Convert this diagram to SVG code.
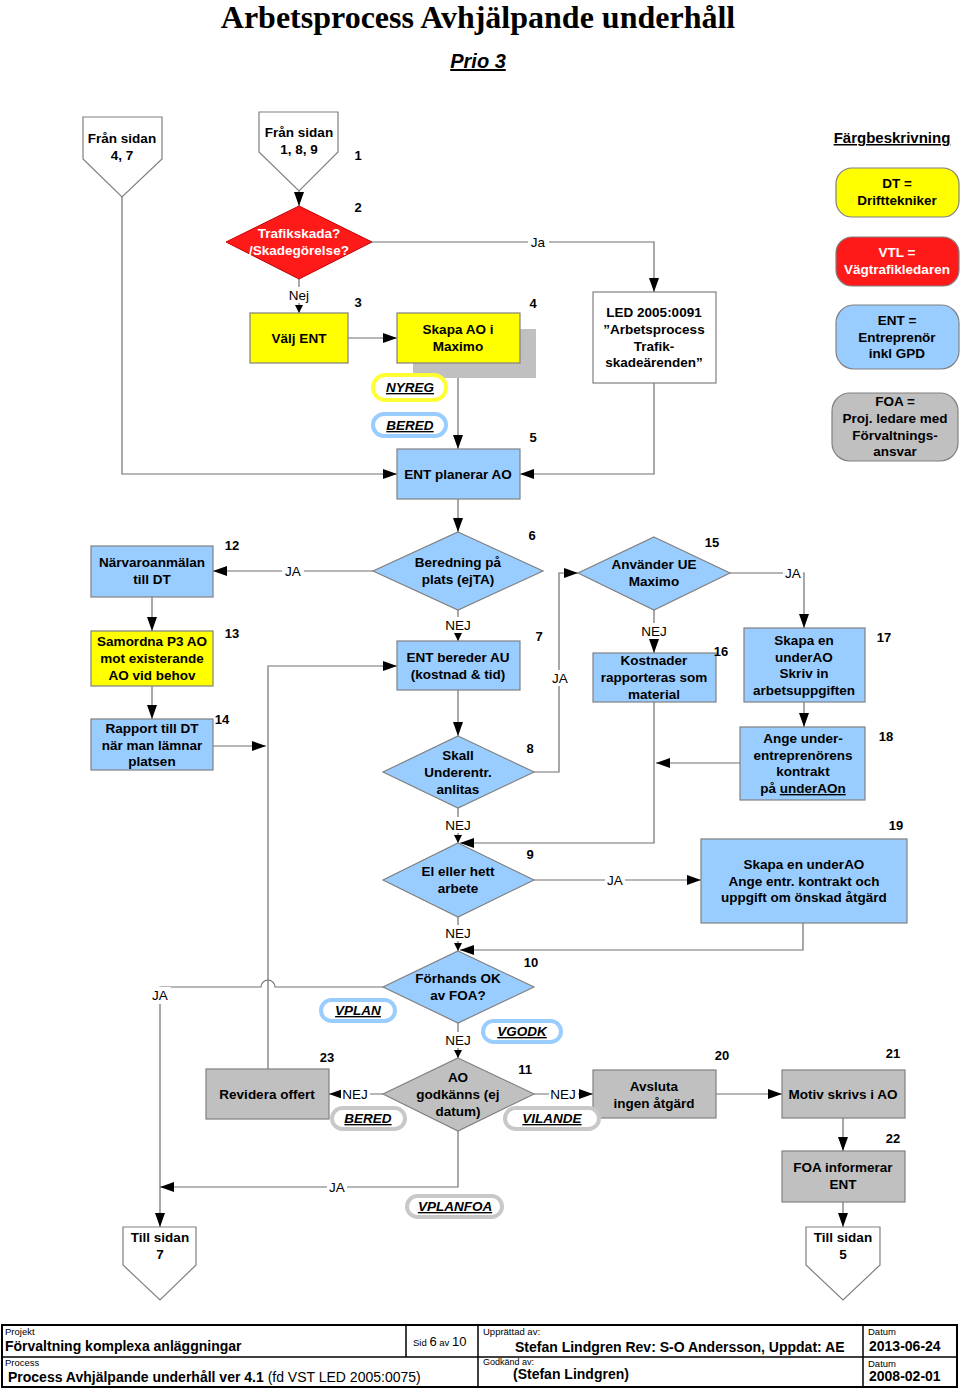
<svg xmlns="http://www.w3.org/2000/svg" width="960" height="1388" viewBox="0 0 960 1388">
<defs>
<style>
text{font-family:"Liberation Sans",Arial,sans-serif;}
.t{font-size:13.5px;font-weight:bold;text-anchor:middle;fill:#000;}
.tw{font-size:13.5px;font-weight:bold;text-anchor:middle;fill:#fff;}
.num{font-size:13px;font-weight:bold;text-anchor:middle;fill:#000;}
.lbl{font-size:13.5px;text-anchor:middle;fill:#000;}
.pt{font-size:13.5px;font-weight:bold;font-style:italic;text-decoration:underline;text-anchor:middle;fill:#000;}
.box{stroke:#808080;stroke-width:1.2;}
.yel{fill:#FFFF00;}
.red{fill:#FF1A1A;}
.blu{fill:#99CCFF;}
.gry{fill:#C0C0C0;}
.wht{fill:#FFFFFF;}
.conn path,.conn line{stroke:#707070;stroke-width:1.2;fill:none;}
.bg{fill:#fff;}
.pillY{fill:#fff;stroke:#FFFF33;stroke-width:4;}
.pillB{fill:#fff;stroke:#99CCFF;stroke-width:4;}
.pillG{fill:#fff;stroke:#C8C8C8;stroke-width:4;}
.sm{font-size:9.5px;fill:#000;}
.ft{font-size:14px;font-weight:bold;fill:#000;}
</style>
<marker id="ar" markerUnits="userSpaceOnUse" markerWidth="14" markerHeight="10" refX="14" refY="5" orient="auto">
<path d="M0,0 L14,5 L0,10 Z" fill="#000"/>
</marker>
<marker id="as" markerUnits="userSpaceOnUse" markerWidth="8" markerHeight="8" refX="8" refY="4" orient="auto">
<path d="M0,0 L8,4 L0,8 Z" fill="#000"/>
</marker>
</defs>
<rect width="960" height="1388" fill="#fff"/>

<text x="478" y="28" style="font-family:'Liberation Serif','Times New Roman',serif;font-size:32px;font-weight:bold;text-anchor:middle;">Arbetsprocess Avhjälpande underhåll</text>
<text x="478" y="68" style="font-size:20px;font-weight:bold;font-style:italic;text-decoration:underline;text-anchor:middle;">Prio 3</text>

<!-- connectors -->
<g class="conn" id="connectors">
<path d="M299,191 V206" marker-end="url(#ar)"/>
<path d="M372,242 H654 V292" marker-end="url(#ar)"/>
<path d="M299,279 V313" marker-end="url(#as)"/>
<path d="M348,338 H397" marker-end="url(#ar)"/>
<path d="M458,363 V449" marker-end="url(#ar)"/>
<path d="M122,197 V474 H397" marker-end="url(#ar)"/>
<path d="M654,383 V474 H520" marker-end="url(#ar)"/>
<path d="M458,499 V532" marker-end="url(#ar)"/>
<path d="M373,571 H213" marker-end="url(#ar)"/>
<path d="M152,597 V631" marker-end="url(#ar)"/>
<path d="M152,686 V719" marker-end="url(#ar)"/>
<path d="M213,746 H266" marker-end="url(#ar)"/>
<path d="M268,1069 V666 H397" marker-end="url(#ar)"/>
<path d="M458,610 V641" marker-end="url(#as)"/>
<path d="M458,690 V736" marker-end="url(#ar)"/>
<path d="M534,772 H559 V573 H578" marker-end="url(#ar)"/>
<path d="M730,573 H804 V628" marker-end="url(#ar)"/>
<path d="M654,610 V653" marker-end="url(#ar)"/>
<path d="M804,702 V727" marker-end="url(#ar)"/>
<path d="M740,763 H656" marker-end="url(#ar)"/>
<path d="M654,702 V843 H460" marker-end="url(#ar)"/>
<path d="M458,808 V843" marker-end="url(#as)"/>
<path d="M534,880 H701" marker-end="url(#ar)"/>
<path d="M803,923 V950 H460" marker-end="url(#ar)"/>
<path d="M458,917 V951" marker-end="url(#as)"/>
<path d="M383,987 H275 A7,7 0 0 0 261,987 H160 V1227" marker-end="url(#ar)"/>
<path d="M458,1023 V1058" marker-end="url(#as)"/>
<path d="M383,1094 H329" marker-end="url(#ar)"/>
<path d="M534,1094 H593" marker-end="url(#ar)"/>
<path d="M716,1094 H782" marker-end="url(#ar)"/>
<path d="M843,1118 V1151" marker-end="url(#ar)"/>
<path d="M843,1202 V1227" marker-end="url(#ar)"/>
<path d="M458,1131 V1187 H160" marker-end="url(#ar)"/>
</g>

<!-- connector labels -->
<g id="connector-labels">
<rect class="bg" x="528" y="234" width="21" height="16"/><text class="lbl" x="538" y="247">Ja</text>
<rect class="bg" x="286" y="287" width="26" height="16"/><text class="lbl" x="299" y="300">Nej</text>
<rect class="bg" x="282" y="563" width="22" height="16"/><text class="lbl" x="293" y="576">JA</text>
<rect class="bg" x="442" y="617" width="32" height="16"/><text class="lbl" x="458" y="630">NEJ</text>
<rect class="bg" x="550" y="670" width="20" height="16"/><text class="lbl" x="560" y="683">JA</text>
<rect class="bg" x="783" y="565" width="20" height="16"/><text class="lbl" x="793" y="578">JA</text>
<rect class="bg" x="638" y="623" width="32" height="16"/><text class="lbl" x="654" y="636">NEJ</text>
<rect class="bg" x="442" y="817" width="32" height="16"/><text class="lbl" x="458" y="830">NEJ</text>
<rect class="bg" x="605" y="872" width="20" height="16"/><text class="lbl" x="615" y="885">JA</text>
<rect class="bg" x="442" y="925" width="32" height="16"/><text class="lbl" x="458" y="938">NEJ</text>
<rect class="bg" x="149" y="987" width="22" height="17"/><text class="lbl" x="160" y="1000">JA</text>
<rect class="bg" x="442" y="1032" width="32" height="16"/><text class="lbl" x="458" y="1045">NEJ</text>
<rect class="bg" x="341" y="1086" width="29" height="16"/><text class="lbl" x="355" y="1099">NEJ</text>
<rect class="bg" x="549" y="1086" width="29" height="16"/><text class="lbl" x="563" y="1099">NEJ</text>
<rect class="bg" x="327" y="1179" width="20" height="16"/><text class="lbl" x="337" y="1192">JA</text>
</g>

<!-- off-page connectors -->
<g id="fran-4-7">
<path class="box wht" d="M83,117 H162 V159 L122,197 L83,159 Z"/>
<text class="t" x="122" y="143">Från sidan</text>
<text class="t" x="122" y="160">4, 7</text>
</g>
<g id="fran-1-8-9">
<path class="box wht" d="M259,112 H338 V152 L299,191 L259,152 Z"/>
<text class="t" x="299" y="137">Från sidan</text>
<text class="t" x="299" y="154">1, 8,  9</text>
</g>

<g id="n2">
<path class="red" d="M299,206 L372,242 L299,279 L226,242 Z" stroke="#C00000" stroke-width="1"/>
<text class="tw" x="299" y="238">Trafikskada?</text>
<text class="tw" x="299" y="255">/Skadegörelse?</text>
</g>
<g id="n3">
<rect class="box yel" x="250" y="313" width="98" height="50"/>
<text class="t" x="299" y="343">Välj ENT</text>
</g>
<g id="n4">
<rect x="413" y="329" width="123" height="49" fill="#C0C0C0"/>
<rect class="box yel" x="397" y="313" width="123" height="50"/>
<text class="t" x="458" y="334">Skapa AO i</text>
<text class="t" x="458" y="351">Maximo</text>
</g>
<g id="led">
<rect class="box wht" x="593" y="292" width="123" height="91"/>
<text class="t" x="654" y="317">LED 2005:0091</text>
<text class="t" x="654" y="334">”Arbetsprocess</text>
<text class="t" x="654" y="351">Trafik-</text>
<text class="t" x="654" y="367">skadeärenden”</text>
</g>
<g id="pill-nyreg">
<rect class="pillY" x="373" y="375" width="73" height="25" rx="12.5"/>
<text class="pt" x="410" y="392">NYREG</text>
</g>
<g id="pill-bered1">
<rect class="pillB" x="373" y="414" width="73" height="22" rx="11"/>
<text class="pt" x="410" y="430">BERED</text>
</g>
<g id="n5">
<rect class="box blu" x="397" y="449" width="123" height="50"/>
<text class="t" x="458" y="479">ENT planerar AO</text>
</g>

<!-- legend -->
<g id="legend">
<text x="892" y="143" style="font-size:15px;font-weight:bold;text-decoration:underline;text-anchor:middle;">Färgbeskrivning</text>
<rect class="box yel" x="836" y="168" width="123" height="49" rx="16"/>
<text class="t" x="897" y="188">DT =</text>
<text class="t" x="897" y="205">Drifttekniker</text>
<rect class="box red" x="836" y="237" width="123" height="49" rx="16"/>
<text class="tw" x="897" y="257">VTL =</text>
<text class="tw" x="897" y="274">Vägtrafikledaren</text>
<rect class="box blu" x="836" y="305" width="123" height="64" rx="18"/>
<text class="t" x="897" y="325">ENT =</text>
<text class="t" x="897" y="342">Entreprenör</text>
<text class="t" x="897" y="358">inkl GPD</text>
<rect class="box gry" x="832" y="393" width="126" height="68" rx="18"/>
<text class="t" x="895" y="406">FOA =</text>
<text class="t" x="895" y="423">Proj. ledare med</text>
<text class="t" x="895" y="440">Förvaltnings-</text>
<text class="t" x="895" y="456">ansvar</text>
</g>

<g id="n6">
<path class="box blu" d="M458,532 L543,571 L458,610 L373,571 Z"/>
<text class="t" x="458" y="567">Beredning på</text>
<text class="t" x="458" y="584">plats (ejTA)</text>
</g>
<g id="n12">
<rect class="box blu" x="91" y="546" width="122" height="51"/>
<text class="t" x="152" y="567">Närvaroanmälan</text>
<text class="t" x="152" y="584">till DT</text>
</g>
<g id="n13">
<rect class="box yel" x="91" y="631" width="122" height="55"/>
<text class="t" x="152" y="646">Samordna P3 AO</text>
<text class="t" x="152" y="663">mot existerande</text>
<text class="t" x="152" y="680">AO vid behov</text>
</g>
<g id="n14">
<rect class="box blu" x="91" y="719" width="122" height="51"/>
<text class="t" x="152" y="733">Rapport till DT</text>
<text class="t" x="152" y="750">när man lämnar</text>
<text class="t" x="152" y="766">platsen</text>
</g>
<g id="n7">
<rect class="box blu" x="397" y="641" width="123" height="49"/>
<text class="t" x="458" y="662">ENT bereder AU</text>
<text class="t" x="458" y="679">(kostnad &amp; tid)</text>
</g>
<g id="n8">
<path class="box blu" d="M458,736 L534,772 L458,808 L383,772 Z"/>
<text class="t" x="458" y="760">Skall</text>
<text class="t" x="458" y="777">Underentr.</text>
<text class="t" x="458" y="794">anlitas</text>
</g>
<g id="n15">
<path class="box blu" d="M654,537 L730,573 L654,610 L578,573 Z"/>
<text class="t" x="654" y="569">Använder UE</text>
<text class="t" x="654" y="586">Maximo</text>
</g>
<g id="n16">
<rect class="box blu" x="593" y="653" width="123" height="49"/>
<text class="t" x="654" y="665">Kostnader</text>
<text class="t" x="654" y="682">rapporteras som</text>
<text class="t" x="654" y="699">material</text>
</g>
<g id="n17">
<rect class="box blu" x="744" y="628" width="121" height="74"/>
<text class="t" x="804" y="645">Skapa en</text>
<text class="t" x="804" y="662">underAO</text>
<text class="t" x="804" y="678">Skriv in</text>
<text class="t" x="804" y="695">arbetsuppgiften</text>
</g>
<g id="n18">
<rect class="box blu" x="740" y="727" width="125" height="73"/>
<text class="t" x="803" y="743">Ange under-</text>
<text class="t" x="803" y="760">entreprenörens</text>
<text class="t" x="803" y="776">kontrakt</text>
<text class="t" x="803" y="793">på <tspan style="text-decoration:underline">underAOn</tspan></text>
</g>
<g id="n9">
<path class="box blu" d="M458,843 L534,880 L458,917 L383,880 Z"/>
<text class="t" x="458" y="876">El eller hett</text>
<text class="t" x="458" y="893">arbete</text>
</g>
<g id="n19">
<rect class="box blu" x="701" y="839" width="206" height="84"/>
<text class="t" x="804" y="869">Skapa en underAO</text>
<text class="t" x="804" y="886">Ange entr. kontrakt och</text>
<text class="t" x="804" y="902">uppgift om önskad åtgärd</text>
</g>
<g id="n10">
<path class="box blu" d="M458,951 L534,987 L458,1023 L383,987 Z"/>
<text class="t" x="458" y="983">Förhands OK</text>
<text class="t" x="458" y="1000">av FOA?</text>
</g>
<g id="pill-vplan">
<rect class="pillB" x="321" y="1000" width="74" height="21" rx="10.5"/>
<text class="pt" x="358" y="1015">VPLAN</text>
</g>
<g id="pill-vgodk">
<rect class="pillB" x="483" y="1021" width="78" height="21" rx="10.5"/>
<text class="pt" x="522" y="1036">VGODK</text>
</g>
<g id="n11">
<path class="box gry" d="M458,1058 L534,1094 L458,1131 L383,1094 Z"/>
<text class="t" x="458" y="1082">AO</text>
<text class="t" x="458" y="1099">godkänns (ej</text>
<text class="t" x="458" y="1116">datum)</text>
</g>
<g id="n23">
<rect class="box gry" x="206" y="1069" width="123" height="50"/>
<text class="t" x="267" y="1099">Revidera offert</text>
</g>
<g id="pill-bered2">
<rect class="pillG" x="332" y="1108" width="73" height="21" rx="10.5"/>
<text class="pt" x="368" y="1123">BERED</text>
</g>
<g id="n20">
<rect class="box gry" x="593" y="1070" width="123" height="48"/>
<text class="t" x="654" y="1091">Avsluta</text>
<text class="t" x="654" y="1108">ingen åtgärd</text>
</g>
<g id="pill-vilande">
<rect class="pillG" x="505" y="1108" width="94" height="21" rx="10.5"/>
<text class="pt" x="552" y="1123">VILANDE</text>
</g>
<g id="n21">
<rect class="box gry" x="782" y="1070" width="123" height="48"/>
<text class="t" x="843" y="1099">Motiv skrivs i AO</text>
</g>
<g id="n22">
<rect class="box gry" x="782" y="1151" width="123" height="51"/>
<text class="t" x="843" y="1172">FOA informerar</text>
<text class="t" x="843" y="1189">ENT</text>
</g>
<g id="pill-vplanfoa">
<rect class="pillG" x="407" y="1196" width="95" height="21" rx="10.5"/>
<text class="pt" x="455" y="1211">VPLANFOA</text>
</g>
<g id="till-7">
<path class="box wht" d="M123,1227 H196 V1265 L160,1300 L123,1265 Z"/>
<text class="t" x="160" y="1242">Till sidan</text>
<text class="t" x="160" y="1259">7</text>
</g>
<g id="till-5">
<path class="box wht" d="M806,1227 H880 V1265 L843,1300 L806,1265 Z"/>
<text class="t" x="843" y="1242">Till sidan</text>
<text class="t" x="843" y="1259">5</text>
</g>

<!-- step numbers -->
<g id="numbers">
<text class="num" x="358" y="160">1</text>
<text class="num" x="358" y="212">2</text>
<text class="num" x="358" y="307">3</text>
<text class="num" x="533" y="308">4</text>
<text class="num" x="533" y="442">5</text>
<text class="num" x="532" y="540">6</text>
<text class="num" x="539" y="641">7</text>
<text class="num" x="530" y="753">8</text>
<text class="num" x="530" y="859">9</text>
<text class="num" x="531" y="967">10</text>
<text class="num" x="525" y="1074">11</text>
<text class="num" x="232" y="550">12</text>
<text class="num" x="232" y="638">13</text>
<text class="num" x="222" y="724">14</text>
<text class="num" x="712" y="547">15</text>
<text class="num" x="721" y="656">16</text>
<text class="num" x="884" y="642">17</text>
<text class="num" x="886" y="741">18</text>
<text class="num" x="896" y="830">19</text>
<text class="num" x="722" y="1060">20</text>
<text class="num" x="893" y="1058">21</text>
<text class="num" x="893" y="1143">22</text>
<text class="num" x="327" y="1062">23</text>
</g>

<!-- footer -->
<g id="footer">
<rect x="2" y="1325" width="955" height="62" fill="#fff" stroke="#000" stroke-width="2"/>
<line x1="2" y1="1357" x2="957" y2="1357" stroke="#000" stroke-width="1.5"/>
<line x1="406" y1="1325" x2="406" y2="1357" stroke="#000" stroke-width="1.5"/>
<line x1="478" y1="1325" x2="478" y2="1387" stroke="#000" stroke-width="1.5"/>
<line x1="863" y1="1325" x2="863" y2="1387" stroke="#000" stroke-width="1.5"/>
<text class="sm" x="5" y="1335">Projekt</text>
<text class="ft" x="5" y="1351">Förvaltning komplexa anläggningar</text>
<text x="413" y="1346" style="font-size:9.5px;">Sid <tspan style="font-size:13px">6</tspan> av <tspan style="font-size:13px">10</tspan></text>
<text class="sm" x="5" y="1366">Process</text>
<text class="ft" x="8" y="1382">Process Avhjälpande underhåll ver 4.1 <tspan style="font-weight:normal">(fd VST LED 2005:0075)</tspan></text>
<text class="sm" x="483" y="1335">Upprättad av:</text>
<text class="ft" x="515" y="1352">Stefan Lindgren Rev: S-O Andersson, Uppdat: AE</text>
<text class="sm" x="868" y="1335">Datum</text>
<text class="ft" x="869" y="1351">2013-06-24</text>
<text class="sm" x="483" y="1365" style="font-size:9px">Godkänd av:</text>
<text class="ft" x="513" y="1379">(Stefan Lindgren)</text>
<text class="sm" x="868" y="1367">Datum</text>
<text class="ft" x="869" y="1381">2008-02-01</text>
</g>
</svg>
